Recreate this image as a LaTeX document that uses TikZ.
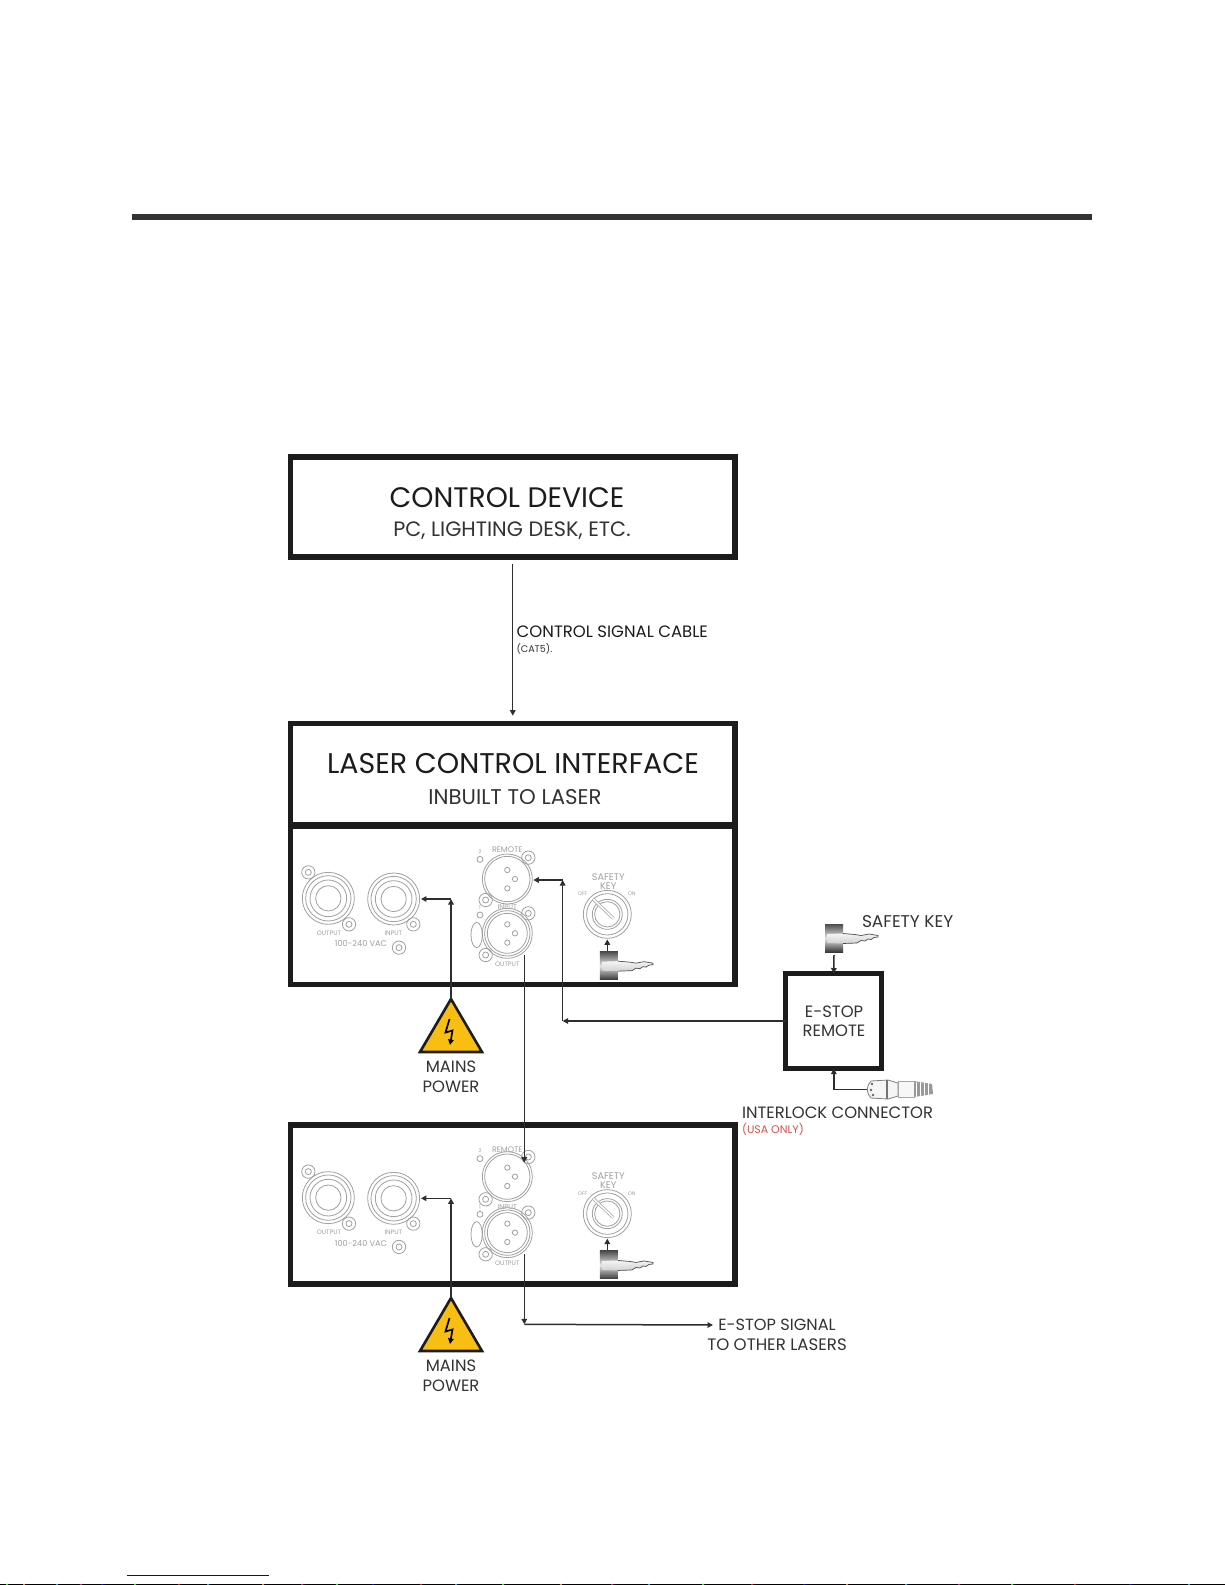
\documentclass[tikz,border=0pt]{standalone}
\usepackage{fontspec}
\setmainfont{Poppins}
\usetikzlibrary{arrows.meta,calc,shadings}
\definecolor{frame}{HTML}{1C1C1C}
\definecolor{wire}{HTML}{2E2E2E}
\definecolor{ink}{HTML}{333333}
\definecolor{panelgrey}{HTML}{A0A0A0}
\definecolor{warn}{HTML}{F8BF12}
\newcommand{\fs}[1]{\fontsize{#1}{#1}\selectfont}
\tikzset{
  x=1pt,y=-1pt,
  boxnode/.style={draw=frame,line width=5.5pt,fill=white,inner sep=0pt,outer sep=0pt,anchor=north west},
  lab/.style={inner sep=0pt,outer sep=0pt,text=ink,align=center},
  wirethin/.style={draw=wire,line width=1.2pt},
  wirethick/.style={draw=wire,line width=1.5pt},
  tip/.style={-{Triangle[length=5.5pt,width=5.5pt]}},
  ptxt/.style={inner sep=0pt,outer sep=0pt,text=panelgrey,font=\fs{6.4}},
  pline/.style={draw=panelgrey,line width=.8pt},
  pics/screw/.style={code={\draw[pline] (0,0) circle (20) (0,0) circle (9);}},
  pics/xlr/.style={code={
    \draw[pline] (0,0) circle (75) (0,0) circle (68);
    \draw[pline] (0,-27) circle (8) (23,0) circle (8) (0,28) circle (8);}},
  pics/speakon/.style={code={
    \draw[pline] (0,0) circle (78) (0,0) circle (68) (0,0) circle (55) (0,0) circle (38);}},
  pics/panel/.style={code={
    \begin{scope}[x=.3333pt,y=-.3333pt]
    \pic at (130,235) {speakon};
    \pic at (70,157) {screw};
    \pic at (192,313) {screw};
    \pic at (326,237) {speakon};
    \pic at (385,313) {screw};
    \pic at (342,383) {screw};
    \node[ptxt] at (132,340) {OUTPUT};
    \node[ptxt] at (325,340) {INPUT};
    \node[ptxt,font=\fs{8.2}] at (228,372) {100-240 VAC};
    \pic at (667,#1) {xlr};
    \pic at (730,113) {screw};
    \pic at (602,240) {screw};
    \node[ptxt,font=\fs{8}] at (667,90) {REMOTE};
    \draw[pline] (585,118) circle (9);
    \node[ptxt,font=\fs{5}] at (585,95) {2};
    \pic at (667,340) {xlr};
    \draw[pline] (667,340) circle (60);
    \pic at (730,280) {screw};
    \pic at (602,405) {screw};
    \node[ptxt,font=\fs{7}] at (667,262) {INPUT};
    \node[ptxt] at (667,432) {OUTPUT};
    \draw[pline] (585,285) circle (9);
    \node[ptxt,font=\fs{5}] at (585,262) {1};
    \draw[pline] (575,345) ellipse (17 and 38);
    \draw[pline] (967,283) circle (72) (967,283) circle (62) (967,283) circle (45) (967,283) circle (38);
    \draw[panelgrey,line width=3pt] (925,238) -- (985,295);
    \draw[white,line width=1.6pt] (925,238) -- (985,295);
    \node[ptxt,font=\fs{9.6}] at (970,172) {SAFETY};
    \node[ptxt,font=\fs{9.6}] at (970,198) {KEY};
    \node[ptxt,font=\fs{5.2}] at (893,222) {OFF};
    \node[ptxt,font=\fs{5.2}] at (1040,222) {ON};
    \pic at (945,395) {safekey};
    \coordinate (-inport) at (408,237);
    \coordinate (-incorner) at (497,237);
    \coordinate (-remport) at (745,180);
    \coordinate (-remcorner) at (833,180);
    \coordinate (-keytop) at (967,392);
    \coordinate (-keyend) at (967,358);
    \coordinate (-remtop) at (718,130);
    \coordinate (-outport) at (718,405);
    \end{scope}
    \draw[wirethick,tip] (-keytop) -- (-keyend);
  }},
  pics/safekey/.style={code={
    \begin{scope}[x=1pt,y=-1pt]
    \shade[top color=black!70,bottom color=black!78,middle color=black!10] (0,0) rectangle (18,28);
    \shade[top color=black!4,bottom color=black!18] (2,10) -- (18,9.5) -- (30,10.5) -- (36,11.5) -- (44,10) -- (53,11.5)
       -- (53,13) -- (49,13.5) -- (46,15.5) -- (43,15) -- (40,17) -- (36,16.5) -- (32,19) -- (18,19.5) -- (2,19) -- cycle;
    \draw[black!70,line width=.7pt] (18,9.5) -- (30,10.5) -- (36,11.5) -- (44,10) -- (53,11.5) -- (53,13) -- (49,13.5) -- (46,15.5) -- (43,15) -- (40,17) -- (36,16.5) -- (32,19) -- (18,19.5);
    \end{scope}
  }},
  pics/mains/.style={code={
    \draw[frame,line width=2.6pt,fill=warn,line join=miter] (0,0) coordinate (-apex) -- (-31,53) -- (31,53) -- cycle;
    \draw[black,line width=1.7pt,tip,line join=miter] (-1.5,20) -- (-5.5,33.5) -- (1.5,31.5) -- (-1,46);
    \node[lab,font=\fs{16.4}] at (0,68) {MAINS};
    \node[lab,font=\fs{16.4}] at (0,87.5) {POWER};
  }},
}
\begin{document}
\begin{tikzpicture}
\useasboundingbox (0,0) rectangle (1225,1585);
\fill[white] (0,0) rectangle (1225,1585);
% page furniture
\fill[ink] (132,214) rectangle (1092,220);
\fill[blue!85!black] (127,1575) rectangle (269,1576);
\fill[black] (0,1584) rectangle (1225,1585);
\foreach \q/\c in {6/green,23/orange,56/cyan,80/magenta,101/blue,134/green,178/red,207/cyan,262/orange,301/magenta,336/green,372/blue,420/red,455/cyan,502/green,560/orange,611/magenta,648/cyan,702/green,751/red,803/blue,846/orange,905/cyan,958/magenta,1011/green,1074/red,1129/blue,1188/cyan}
  \fill[\c] (\q,1584) rectangle ++(2,1);
% boxes
\node[boxnode,minimum width=444.5pt,minimum height=100pt] (control) at (290.5,457) {};
\node[boxnode,minimum width=444.5pt,minimum height=100.6pt] (laser) at (290.5,723.7) {};
\node[boxnode,minimum width=444.5pt,minimum height=158pt] (panelA) at (290.5,826.3) {};
\node[boxnode,minimum width=444.5pt,minimum height=159pt] (panelB) at (290.5,1125) {};
\node[boxnode,line width=5pt,minimum width=96pt,minimum height=95pt] (estop) at (785.8,973.5) {};
% box texts
\node[lab,text=frame,font=\fs{28.2}] (t1) at (507,498) {CONTROL DEVICE};
\node[lab,font=\fs{20.8}] (t2) at (512,531) {PC, LIGHTING DESK, ETC.};
\node[lab,text=frame,font=\fs{28.5}] (t3) at (513,764) {LASER CONTROL INTERFACE};
\node[lab,font=\fs{21.3}] (t4) at (515,797) {INBUILT TO LASER};
\node[lab,font=\fs{16.4}] (t5) at (834,1012) {E-STOP};
\node[lab,font=\fs{16.4}] (t6) at (834,1031) {REMOTE};
% panels
\pic (pa) at (285,820) {panel=177};
\pic (pb) at (285,1119.3) {panel=172};
% mains
\pic (ma) at (451,999) {mains};
\pic (mb) at (451,1298) {mains};
% other pictures
\pic at (825,924) {safekey};
% connector
\begin{scope}[shift={(868,1078)}]
  \draw[black!50,line width=.8pt,fill=black!4] (3,3) .. controls (-2,8) and (-2,15) .. (3,20) -- (20,21) -- (30,18) -- (30,5) -- (20,2) -- cycle;
  \fill[black!60] (4,6) circle (1.4) (3,12) circle (1.4) (5,17) circle (1.4);
  \draw[black!55,line width=1.2pt] (19,2) -- (19,21);
  \draw[black!35,line width=.8pt,fill=black!3] (30,3) -- (46,3) -- (46,19) -- (30,19) -- cycle;
  \fill[black!40] (46,3) -- (64,6) -- (65,16) -- (46,19) -- cycle;
  \foreach \q in {48,52,56,60} \draw[white,line width=.6pt] (\q,4) -- (\q,19);
  \coordinate (plug) at (-1,11.5);
\end{scope}
% text labels
\node[lab,anchor=west,text=frame,font=\fs{16.5}] (csc) at (516.7,632) {CONTROL SIGNAL CABLE};
\node[lab,anchor=west,font=\fs{9.6}] (cat) at (516.5,649) {(CAT5).};
\node[lab,anchor=west,font=\fs{17}] (sk) at (862,922) {SAFETY KEY};
\node[lab,anchor=west,font=\fs{16.4}] (il) at (742,1113) {INTERLOCK CONNECTOR};
\node[lab,anchor=west,text=red!80!black,opacity=.7,font=\fs{11}] (usa) at (742,1129) {(USA ONLY)};
\node[lab,font=\fs{16.2}] (es1) at (777,1325) {E-STOP SIGNAL};
\node[lab,font=\fs{16.6}] (es2) at (777,1345) {TO OTHER LASERS};
% connectors
\draw[wirethin,tip] ($(control.south)+(0,7)$) -- ($(laser.north)+(0,-8)$);
\draw[wirethick,tip] (ma-apex) -- (ma-apex |- pa-incorner);
\draw[wirethick,tip] (pa-incorner) -- (pa-inport);
\draw[wirethick,tip] (mb-apex) -- (mb-apex |- pb-incorner);
\draw[wirethick,tip] (pb-incorner) -- (pb-inport);
\coordinate (bend) at (pa-remcorner |- estop.west);
\draw[wirethick,tip] (estop.west) -- (bend);
\draw[wirethick,tip] (bend) -- (pa-remcorner);
\draw[wirethick,tip] (pa-remcorner) -- (pa-remport);
\draw[wirethick,tip] (pa-outport) -- (pb-remtop);
\coordinate (low) at ($(pb-outport)+(0,70)$);
\draw[wirethick,tip] (pb-outport) -- (low);
\coordinate (sigend) at (713,1325);
\draw[wirethick,tip] (low) -- (sigend);
\coordinate (keyb) at (834,955);
\draw[wirethick,tip] (keyb) -- (estop.north);
\draw[wirethick,tip] (plug) -- (plug -| estop.south) -- (estop.south);
\end{tikzpicture}
\end{document}
